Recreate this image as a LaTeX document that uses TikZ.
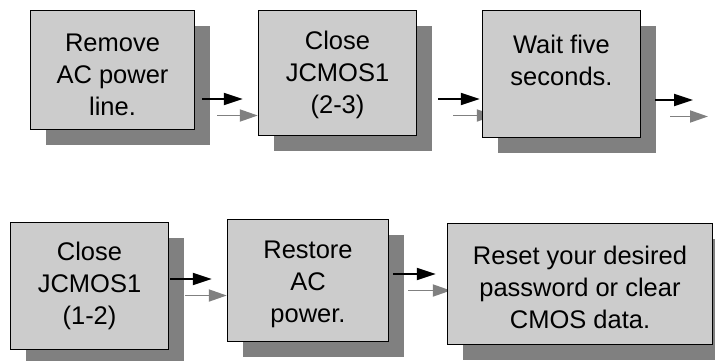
\documentclass[tikz,border=0pt]{standalone}
\usepackage{fontspec}
\setmainfont{Liberation Sans}
\usetikzlibrary{arrows.meta,calc}
\pgfdeclarelayer{bg}
\pgfsetlayers{bg,main}
\definecolor{boxfill}{HTML}{CCCCCC}
\definecolor{shade}{HTML}{808080}
\newcommand\flowpair[2]{%
  \begin{pgfonlayer}{bg}\draw[flowshade] #1 -- #2;\end{pgfonlayer}%
  \draw[flow] #1 -- #2;}
\begin{document}
\begin{tikzpicture}[x=1pt,y=-1pt,
  stepbox/.style={draw=black, line width=1.4pt, fill=boxfill, inner sep=0pt,
    preaction={fill=shade, transform canvas={shift={(15.5pt,-15.5pt)}}}},
  steptext/.style={align=center, inner sep=0pt, font=\fontsize{25.5}{32}\selectfont},
  flow/.style={draw=black, line width=2pt, -{Triangle[length=19pt,width=12pt]}},
  flowshade/.style={draw=shade, line width=1.8pt, -{Triangle[length=18pt,width=12pt]},
    transform canvas={shift={(15pt,-16.5pt)}}}]
\useasboundingbox (0,0) rectangle (715,361);
\clip (0,0) rectangle (715,361);
\node[stepbox, minimum width=164pt, minimum height=119pt] (b1) at (112.5,70) {};
\node[stepbox, minimum width=158pt, minimum height=125pt] (b2) at (337.5,73) {};
\node[stepbox, minimum width=158pt, minimum height=127pt] (b3) at (561.5,74) {};
\node[stepbox, minimum width=158pt, minimum height=127pt] (b4) at (89.5,286) {};
\node[stepbox, minimum width=161pt, minimum height=122pt] (b5) at (308,280.5) {};
\node[stepbox, minimum width=265pt, minimum height=121pt] (b6) at (580,284) {};
\node[steptext] (t1) at ($(b1.center)+(0,5)$) {Remove\\AC power\\line.};
\node[steptext] (t2) at ($(b2.center)+(0,2)$) {Close\\JCMOS1\\(2-3)};
\node[steptext] (t3) at ($(b3.center)+(0,7)$) {Wait five\\seconds.\\\strut};
\node[steptext] (t4) at ($(b4.center)+(0,0)$) {Close\\JCMOS1\\(1-2)};
\node[steptext] (t5) at ($(b5.center)+(0,4)$) {Restore\\AC\\power.};
\node[steptext] (t6) at ($(b6.center)+(0,3)$) {Reset your desired\\password or clear\\CMOS data.};
\coordinate (e3) at (693,100);
\flowpair{($(b1.east)+(7,29)$)}{($(b2.west)+(-15,26)$)}
\flowpair{($(b2.east)+(21,26)$)}{($(b3.west)+(-2,25)$)}
\flowpair{($(b3.east)+(14,26)$)}{(e3)}
\flowpair{($(b4.east)+(1,-7)$)}{($(b5.west)+(-15,-1.5)$)}
\flowpair{($(b5.east)+(4,-6.5)$)}{($(b6.west)+(-11,-10)$)}
\end{tikzpicture}
\end{document}
